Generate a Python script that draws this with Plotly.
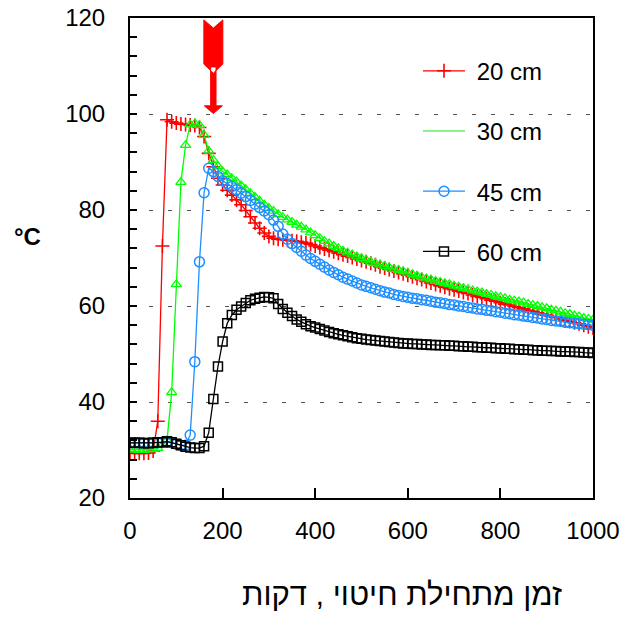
import plotly.graph_objects as go

time_min = list(range(0, 1001, 10))

temp_20cm = [29.4, 29.3, 29.3, 29.3, 29.4, 29.8, 36.0, 72.5, 98.8, 98.4,
             98.1, 97.9, 97.8, 97.7, 97.6, 97.2, 95.3, 91.8, 89.0, 86.6,
             85.2, 84.1, 83.1, 82.1, 81.1, 79.9, 78.6, 77.3, 76.2, 75.2,
             74.5, 74.1, 73.9, 73.8, 73.7, 73.6, 73.5, 73.3, 73.1, 72.8,
             72.5, 72.2, 71.9, 71.6, 71.3, 71.0, 70.7, 70.4, 70.1, 69.8,
             69.5, 69.2, 68.9, 68.6, 68.2, 67.9, 67.6, 67.3, 67.0, 66.7,
             66.4, 66.1, 65.8, 65.5, 65.1, 64.8, 64.5, 64.2, 63.9, 63.6,
             63.4, 63.1, 62.8, 62.6, 62.3, 62.0, 61.8, 61.5, 61.2, 61.0,
             60.7, 60.4, 60.2, 59.9, 59.7, 59.4, 59.1, 58.9, 58.6, 58.3,
             58.1, 57.8, 57.6, 57.3, 57.0, 56.8, 56.5, 56.3, 56.0, 55.7,
             55.4]

temp_30cm = [30.1, 30.1, 30.0, 30.0, 30.1, 30.2, 30.4, 31.0, 32.0, 42.0,
             64.5, 85.8, 93.5, 97.8, 98.0, 97.7, 95.6, 92.3, 90.4, 89.1,
             88.0, 87.4, 86.6, 85.9, 85.1, 84.3, 83.5, 82.7, 81.9, 81.1,
             80.4, 79.8, 79.1, 78.5, 78.0, 77.5, 76.9, 76.5, 75.9, 75.3,
             74.7, 74.1, 73.5, 73.0, 72.5, 72.0, 71.5, 71.1, 70.7, 70.3,
             69.9, 69.6, 69.2, 68.9, 68.6, 68.3, 68.0, 67.7, 67.5, 67.2,
             66.9, 66.6, 66.3, 66.0, 65.7, 65.5, 65.2, 65.0, 64.7, 64.5,
             64.2, 64.0, 63.7, 63.5, 63.2, 63.0, 62.8, 62.5, 62.3, 62.0,
             61.8, 61.6, 61.3, 61.1, 60.9, 60.7, 60.4, 60.2, 60.0, 59.7,
             59.5, 59.2, 59.0, 58.8, 58.5, 58.3, 58.0, 57.8, 57.5, 57.3,
             57.1]

temp_45cm = [31.5, 31.5, 31.5, 31.5, 31.5, 31.5, 31.5, 31.6, 31.7, 31.5,
             31.2, 31.0, 31.0, 33.1, 48.4, 69.2, 83.6, 88.7, 88.0, 87.0,
             86.1, 85.5, 84.9, 84.2, 83.5, 82.8, 82.0, 81.2, 80.5, 79.8,
             79.0, 77.9, 76.6, 75.0, 73.9, 73.0, 72.2, 71.4, 70.6, 69.9,
             69.3, 68.7, 68.1, 67.5, 67.0, 66.5, 66.0, 65.6, 65.2, 64.8,
             64.4, 64.1, 63.8, 63.5, 63.2, 62.9, 62.7, 62.4, 62.2, 62.0,
             61.8, 61.6, 61.5, 61.3, 61.2, 61.0, 60.8, 60.7, 60.5, 60.3,
             60.2, 60.0, 59.9, 59.7, 59.6, 59.4, 59.3, 59.1, 59.0, 58.8,
             58.7, 58.5, 58.4, 58.2, 58.1, 57.9, 57.8, 57.6, 57.5, 57.3,
             57.2, 57.0, 56.9, 56.8, 56.6, 56.5, 56.4, 56.3, 56.2, 56.1,
             56.0]

temp_60cm = [31.5, 31.5, 31.5, 31.4, 31.4, 31.5, 31.6, 31.6, 31.8, 31.6,
             31.3, 31.0, 30.7, 30.5, 30.4, 30.4, 30.8, 33.6, 40.6, 47.4,
             52.6, 56.4, 58.1, 59.2, 59.9, 60.6, 61.2, 61.5, 61.7, 61.9,
             61.8, 61.6, 60.4, 59.4, 58.6, 57.9, 57.2, 56.7, 56.2, 55.8,
             55.5, 55.2, 54.9, 54.6, 54.3, 54.1, 53.9, 53.7, 53.5, 53.3,
             53.2, 53.0, 52.9, 52.8, 52.7, 52.6, 52.5, 52.4, 52.3, 52.2,
             52.2, 52.1, 52.1, 52.0, 52.0, 51.9, 51.9, 51.8, 51.8, 51.7,
             51.7, 51.6, 51.6, 51.5, 51.5, 51.4, 51.4, 51.3, 51.3, 51.2,
             51.2, 51.1, 51.1, 51.0, 51.0, 50.9, 50.9, 50.8, 50.8, 50.7,
             50.7, 50.6, 50.6, 50.5, 50.5, 50.5, 50.4, 50.4, 50.3, 50.3,
             50.2]

series_names = ["20 cm", "30 cm", "45 cm", "60 cm"]
x_ticks = [0, 200, 400, 600, 800, 1000]
y_ticks = [20, 40, 60, 80, 100, 120]
x_title = "זמן מתחילת חיטוי , דקות"
y_title = "°C"
arrow_time = 180

FONT = "Liberation Sans, Arial, sans-serif"
RED, GREEN, BLUE, BLACK = "#FF0000", "#00FF00", "#1E8FFF", "#000000"
NB = "\u00a0"

fig = go.Figure()

fig.add_trace(go.Scatter(
    x=time_min, y=temp_20cm, name=NB + series_names[0], mode="lines+markers",
    line=dict(color=RED, width=1.3),
    marker=dict(symbol="cross-thin", size=10, color=RED, line=dict(color=RED, width=1.6)),
    legendgroup="a"))
fig.add_trace(go.Scatter(
    x=time_min, y=temp_30cm, name=NB + series_names[1], mode="lines+markers",
    line=dict(color=GREEN, width=1.3),
    marker=dict(symbol="triangle-up-open", size=9, color=GREEN, line=dict(color=GREEN, width=1.3)),
    showlegend=False, legendgroup="b"))
fig.add_trace(go.Scatter(
    x=[None], y=[None], name=NB + series_names[1], mode="lines",
    line=dict(color="#66EE66", width=1.5), legendgroup="b"))
fig.add_trace(go.Scatter(
    x=time_min, y=temp_45cm, name=NB + series_names[2], mode="lines+markers",
    line=dict(color=BLUE, width=1.3),
    marker=dict(symbol="circle-open", size=10, color=BLUE, line=dict(color=BLUE, width=1.5)),
    legendgroup="c"))
fig.add_trace(go.Scatter(
    x=time_min, y=temp_60cm, name=NB + series_names[3], mode="lines+markers",
    line=dict(color=BLACK, width=1.3),
    marker=dict(symbol="square-open", size=9, color=BLACK, line=dict(color=BLACK, width=1.5)),
    legendgroup="d"))

cx = arrow_time
fw, sw, hw = 20.5, 5.8, 19.5
arrow_path = (
    f"M {cx-fw},119.6 L {cx},117.9 L {cx+fw},119.6 L {cx+fw},110.4 L {cx},108.5 L {cx-fw},110.4 Z "
    f"M {cx-sw},109.8 L {cx+sw},109.8 L {cx+sw},101.7 L {cx+hw},101.7 L {cx},100.1 "
    f"L {cx-hw},101.7 L {cx-sw},101.7 Z"
)
fig.add_shape(type="path", path=arrow_path, xref="x", yref="y",
              fillcolor=RED, line=dict(color=RED, width=1), layer="above")

fig.add_annotation(text=x_title, xref="paper", yref="paper", x=0.588, y=-0.2,
                   xanchor="center", yanchor="middle", showarrow=False,
                   font=dict(family=FONT, size=31, color="black"))
fig.add_annotation(text="<b>" + y_title + "</b>", xref="paper", yref="paper", x=-0.222, y=0.545,
                   xanchor="center", yanchor="middle", showarrow=False,
                   font=dict(family=FONT, size=24, color="black"))

fig.update_layout(
    width=622, height=617,
    margin=dict(l=130, r=29, t=18, b=119, autoexpand=False),
    paper_bgcolor="white", plot_bgcolor="white",
    font=dict(family=FONT, size=24, color="black"),
    showlegend=True,
    legend=dict(x=0.622, y=0.936, xanchor="left", yanchor="top",
                bgcolor="rgba(0,0,0,0)", borderwidth=0,
                font=dict(family=FONT, size=24, color="black"),
                tracegroupgap=26, itemwidth=42),
    xaxis=dict(range=[0, 1000], tickvals=x_ticks, ticks="inside", ticklen=10,
               tickwidth=1.5, tickcolor="black", showline=True, linecolor="black",
               linewidth=2, mirror=True, showgrid=False, zeroline=False,
               automargin=False,
               ticklabelstandoff=10, tickfont=dict(size=24)),
    yaxis=dict(range=[20, 120], tickvals=y_ticks, ticks="inside", ticklen=7,
               tickwidth=1.5, tickcolor="black", showline=True, linecolor="black",
               linewidth=2, mirror=True, showgrid=True, gridcolor="#555555",
               griddash="4px,15px", gridwidth=1, zeroline=False,
               automargin=False,
               ticklabelstandoff=18, tickfont=dict(size=24),
               minor=dict(dtick=4, ticks="inside", ticklen=7, tickwidth=1.5,
                          tickcolor="black", showgrid=False)),
)

fig.write_html("out.html", post_script="document.body.style.margin='0';",
               config={"displayModeBar": False})
